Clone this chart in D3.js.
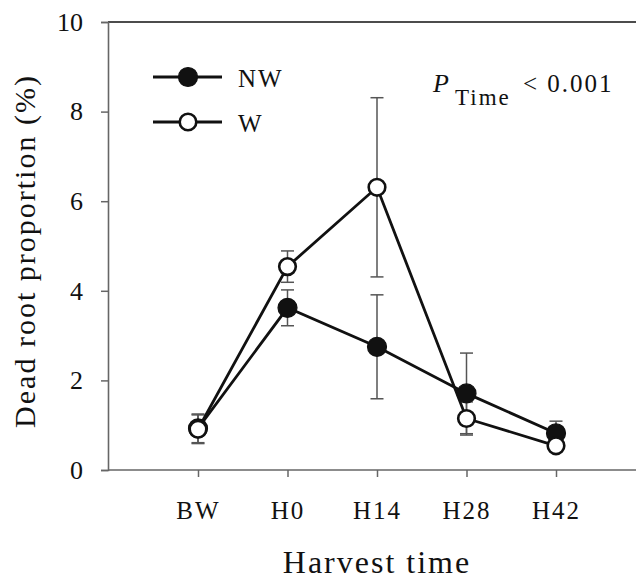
<!DOCTYPE html>
<html>
<head>
<meta charset="utf-8">
<script src="https://cdn.jsdelivr.net/npm/d3@7"></script>
<style>
  body { margin: 0; background: #fff; }
  svg text { font-family: "Liberation Serif", "Times New Roman", serif; fill: #111; }
</style>
</head>
<body>
<svg id="chart" width="636" height="579"></svg>
<script>
// Dead root proportion by harvest time, NW vs W, mean +/- error
const harvest = ["BW", "H0", "H14", "H28", "H42"];
const nwMean = [0.93, 3.62, 2.75, 1.71, 0.82];
const nwErr = [0.32, 0.40, 1.16, 0.90, 0.27];
const wMean = [0.91, 4.54, 6.31, 1.15, 0.54];
const wErr = [0.32, 0.35, 2.0, 0.37, 0.1];
const yTicks = [0, 2, 4, 6, 8, 10];

const svg = d3.select("#chart");
const m = { top: 22, right: 0, bottom: 109, left: 108 };
const W = +svg.attr("width"), H = +svg.attr("height");

const x = d3.scalePoint().domain(harvest).range([198, 556]);
const y = d3.scaleLinear().domain([0, 10]).range([H - m.bottom, m.top]);

const axisColor = "#666";

// top frame line
svg.append("line")
  .attr("x1", m.left).attr("x2", W)
  .attr("y1", m.top).attr("y2", m.top)
  .attr("stroke", "#111").attr("stroke-width", 1.3);

const gx = svg.append("g").attr("transform", `translate(0,${y(0)})`)
  .call(d3.axisBottom(x).tickSize(7));
gx.select(".domain").attr("d", `M${m.left},0H${W}`);
const gy = svg.append("g").attr("transform", `translate(${m.left},0)`)
  .call(d3.axisLeft(y).tickValues(yTicks).tickSize(7).tickPadding(18));
[gx, gy].forEach((g) => {
  g.select(".domain").attr("stroke", axisColor).attr("stroke-width", 1.6);
  g.selectAll(".tick line").attr("stroke", axisColor).attr("stroke-width", 1.5);
  g.selectAll(".tick text").attr("font-size", 26).attr("fill", "#111")
    .style("font-family", "Liberation Serif, serif");
});
gx.selectAll(".tick text").attr("font-size", 25).attr("letter-spacing", 2)
  .attr("y", 49).attr("dy", 0);

// axis titles
svg.append("text")
  .attr("x", 377).attr("y", 573)
  .attr("text-anchor", "middle").attr("font-size", 32).attr("letter-spacing", 2)
  .text("Harvest time");
svg.append("text")
  .attr("transform", `translate(35,251) rotate(-90)`)
  .attr("text-anchor", "middle").attr("font-size", 30).attr("letter-spacing", 2)
  .text("Dead root proportion (%)");

const series = [
  { key: "NW", mean: nwMean, err: nwErr, fill: "#111", r: 9.5, sw: 1.2 },
  { key: "W", mean: wMean, err: wErr, fill: "#fff", r: 8.3, sw: 2.6 },
];

// error bars
series.forEach((s) => {
  const eg = svg.append("g").attr("stroke", "#555").attr("stroke-width", 1.5);
  harvest.forEach((h, i) => {
    const cx = x(h), lo = y(s.mean[i] - s.err[i]), hi = y(s.mean[i] + s.err[i]);
    eg.append("line").attr("x1", cx).attr("x2", cx).attr("y1", lo).attr("y2", hi);
    eg.append("line").attr("x1", cx - 6.5).attr("x2", cx + 6.5).attr("y1", lo).attr("y2", lo);
    eg.append("line").attr("x1", cx - 6.5).attr("x2", cx + 6.5).attr("y1", hi).attr("y2", hi);
  });
});

const line = d3.line().x((d, i) => x(harvest[i])).y((d) => y(d));

series.forEach((s) => {
  svg.append("path")
    .attr("d", line(s.mean))
    .attr("fill", "none").attr("stroke", "#111").attr("stroke-width", 2.8);
});
series.forEach((s) => {
  svg.append("g").selectAll("circle")
    .data(s.mean)
    .join("circle")
    .attr("cx", (d, i) => x(harvest[i]))
    .attr("cy", (d) => y(d))
    .attr("r", s.r)
    .attr("fill", s.fill).attr("stroke", "#111").attr("stroke-width", s.sw);
});

// legend
const legY = [77, 122];
series.forEach((s, i) => {
  const lg = svg.append("g").attr("transform", `translate(0,${legY[i]})`);
  lg.append("line").attr("x1", 153).attr("x2", 222).attr("y1", 0).attr("y2", 0)
    .attr("stroke", "#111").attr("stroke-width", 2.8);
  lg.append("circle").attr("cx", 188).attr("cy", 0).attr("r", s.r)
    .attr("fill", s.fill).attr("stroke", "#111").attr("stroke-width", s.sw);
  lg.append("text").attr("x", 238).attr("y", 10).attr("font-size", 25)
    .attr("letter-spacing", 2).text(s.key);
});

// P-value annotation
svg.append("text").attr("x", 433).attr("y", 92).attr("font-size", 26)
  .attr("font-style", "italic").text("P");
svg.append("text").attr("x", 455).attr("y", 105).attr("font-size", 23)
  .attr("letter-spacing", 2).text("Time");
svg.append("text").attr("x", 523).attr("y", 92).attr("font-size", 25)
  .attr("letter-spacing", 2).text("< 0.001");
</script>
</body>
</html>
